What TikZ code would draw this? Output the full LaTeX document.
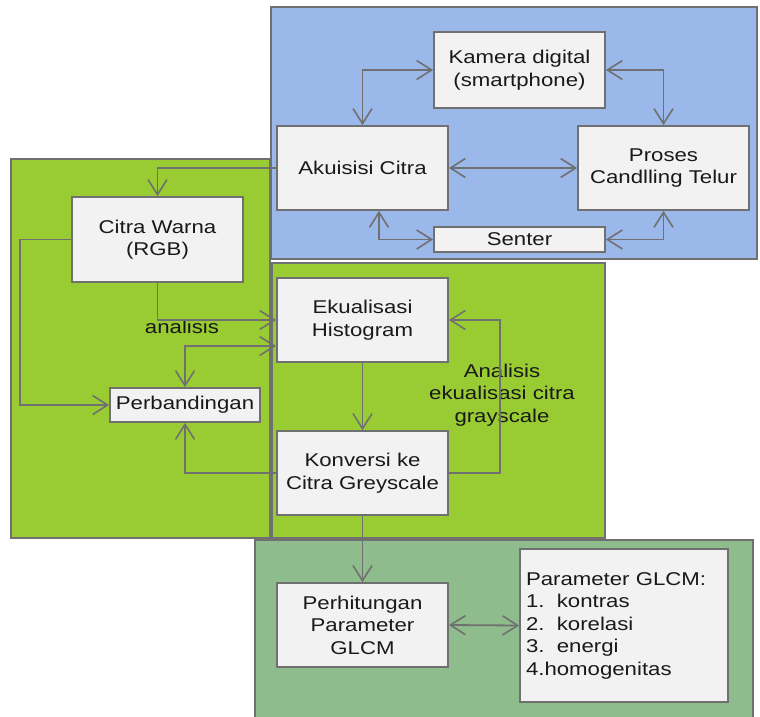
\documentclass[tikz,border=0pt]{standalone}
\usepackage{fontspec}
\setmainfont[FakeStretch=1.2]{Liberation Sans}
\usetikzlibrary{arrows.meta}
\definecolor{bluepanel}{RGB}{155,184,235}
\definecolor{greenpanel}{RGB}{153,204,51}
\definecolor{dkgreenpanel}{RGB}{143,188,140}
\definecolor{boxfill}{RGB}{242,242,242}
\definecolor{linegray}{RGB}{112,112,112}
\definecolor{txt}{RGB}{25,25,25}
\tikzset{
  panel/.style={draw=linegray, line width=1.8pt},
  box/.style={draw=linegray, fill=boxfill, line width=1.8pt, align=center, inner sep=2pt,
    font=\fontsize{18.5}{22.5}\selectfont, text=txt},
  conn/.style={draw=linegray, line width=1.8pt},
  tip/.tip={Straight Barb[length=15pt,width=19pt,line width=1.6pt]},
  both/.style={conn, tip-tip},
  one/.style={conn, -tip},
  lbl/.style={font=\fontsize{18.5}{22.5}\selectfont, text=txt, align=center}
}
\begin{document}
\begin{tikzpicture}[x=1pt,y=-1pt]
\useasboundingbox (0,0) rectangle (760,717);
% panels
\fill[greenpanel] (11,159) rectangle (270,538);
\draw[panel] (11,159) rectangle (270,538);
\fill[bluepanel] (271,7) rectangle (757,259);
\draw[panel] (271,7) rectangle (757,259);
\fill[greenpanel] (272,263) rectangle (605,538);
\draw[panel] (272,263) rectangle (605,538);
\fill[dkgreenpanel] (255,540) rectangle (753,717);
\draw[panel] (255,718) -- (255,540) -- (753,540) -- (753,718);
% nodes
\node[box, minimum width=171pt, minimum height=76pt] (kam) at (519.5,70) {Kamera digital\\(smartphone)};
\node[box, minimum width=171pt, minimum height=84pt] (aku) at (362.5,168) {Akuisisi Citra};
\node[box, minimum width=171pt, minimum height=84pt] (pro) at (663.5,168) {Proses\\Candlling Telur};
\node[box, minimum width=171pt, minimum height=25pt, inner sep=0pt] (sen) at (519.5,239.5) {Senter};
\node[box, minimum width=171pt, minimum height=85pt] (cw) at (157.5,239.5) {Citra Warna\\(RGB)};
\node[box, minimum width=150pt, minimum height=34pt] (pb) at (185,405) {Perbandingan};
\node[box, minimum width=171pt, minimum height=84pt] (ek) at (362.5,320) {Ekualisasi\\Histogram};
\node[box, minimum width=171pt, minimum height=84pt] (kv) at (362.5,473) {Konversi ke\\Citra Greyscale};
\node[box, minimum width=171pt, minimum height=84pt] (ph) at (362.5,625) {Perhitungan\\Parameter\\GLCM};
\node[box, minimum width=208pt, minimum height=153pt, align=left, text width=196pt, inner sep=5pt] (par) at (624,625.5)
  {Parameter GLCM:\\1.\ \ kontras\\2.\ \ korelasi\\3.\ \ energi\\4.homogenitas};
% labels
\node[lbl] (lana) at (182,327) {analisis};
\node[lbl] (lek) at (502,395) {Analisis\\ekualisasi citra\\grayscale};
% connectors
\draw[both] (aku.north) |- (kam.west);
\draw[both] (kam.east) -| (pro.north);
\draw[both] (aku.east) -- (pro.west);
\draw[both] ([xshift=16.5pt]aku.south) |- (sen.west);
\draw[both] (sen.east) -| (pro.south);
\draw[one] (aku.west) -| (cw.north);
\draw[one] (cw.south) |- (ek.west);
\draw[one] (cw.west) -- ++(-51,0) |- (pb.west);
\draw[both] (pb.north) |- ([yshift=-26pt]ek.west);
\draw[one] (kv.west) -| (pb.south);
\draw[one] (ek.south) -- (kv.north);
\draw[one] (kv.east) -- ++(51,0) |- (ek.east);
\draw[one] (kv.south) -- (ph.north);
\draw[both] (ph.east) -- (par.west);
\end{tikzpicture}
\end{document}
